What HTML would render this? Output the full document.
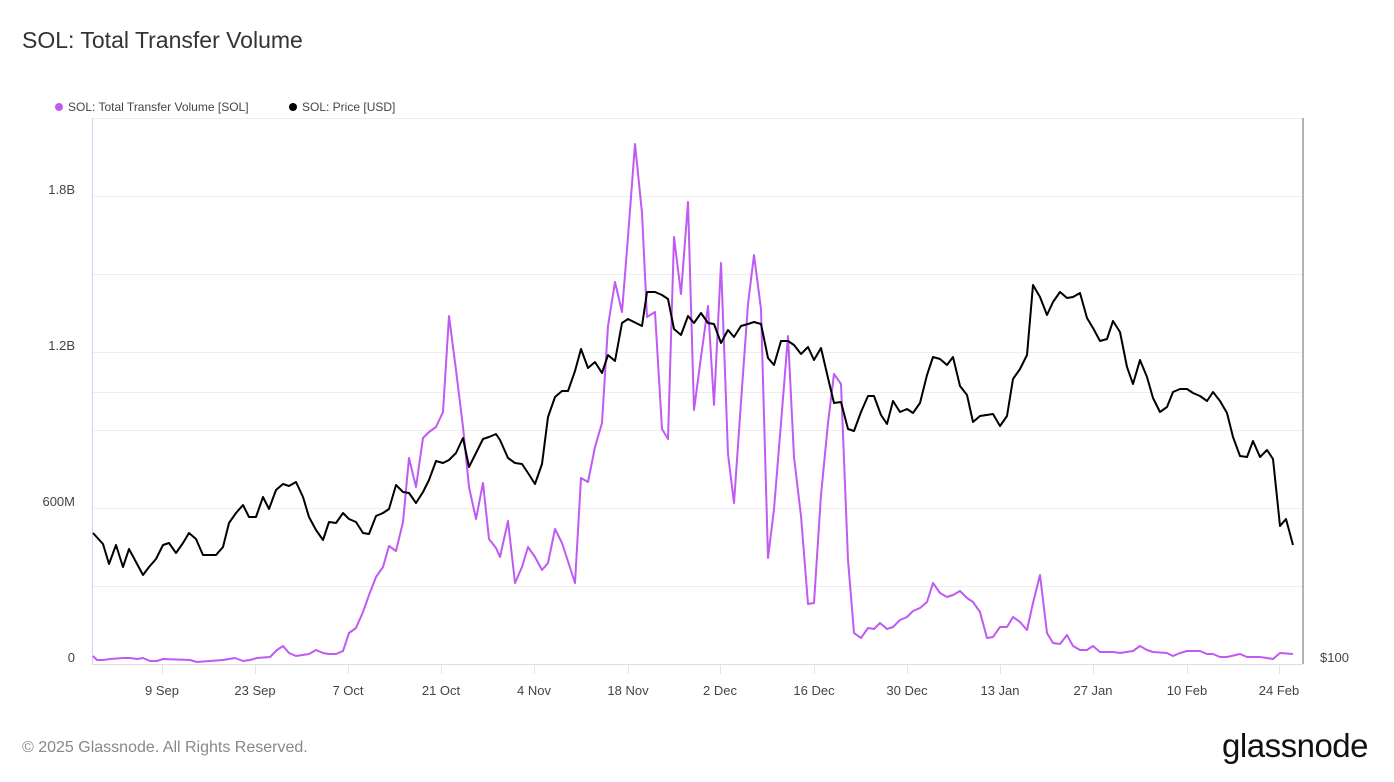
<!DOCTYPE html>
<html><head><meta charset="utf-8"><style>
html,body{margin:0;padding:0;background:#fff;}
body{width:1394px;height:777px;overflow:hidden;font-family:"Liberation Sans",sans-serif;}
</style></head><body>
<svg width="1394" height="777" viewBox="0 0 1394 777" xmlns="http://www.w3.org/2000/svg" font-family="Liberation Sans, sans-serif">
<rect width="1394" height="777" fill="#fff"/>
<text x="22" y="48" font-size="23" fill="#333">SOL: Total Transfer Volume</text>
<circle cx="59" cy="107" r="4" fill="#bf5af2"/>
<text x="68" y="111" font-size="12" fill="#444">SOL: Total Transfer Volume [SOL]</text>
<circle cx="293" cy="107" r="4" fill="#000"/>
<text x="302" y="111" font-size="12" fill="#444">SOL: Price [USD]</text>
<g stroke="#eeeeee" stroke-width="1">
<line x1="92" y1="118.5" x2="1303" y2="118.5"/>
<line x1="92" y1="196.5" x2="1303" y2="196.5"/>
<line x1="92" y1="274.5" x2="1303" y2="274.5"/>
<line x1="92" y1="352.5" x2="1303" y2="352.5"/>
<line x1="92" y1="392.5" x2="1303" y2="392.5"/>
<line x1="92" y1="430.5" x2="1303" y2="430.5"/>
<line x1="92" y1="508.5" x2="1303" y2="508.5"/>
<line x1="92" y1="586.5" x2="1303" y2="586.5"/>
</g>
<line x1="92.5" y1="118" x2="92.5" y2="664" stroke="#e2c6f7" stroke-width="1"/>
<line x1="1303" y1="118" x2="1303" y2="664" stroke="#999" stroke-width="1.5"/>
<line x1="92" y1="664.5" x2="1303" y2="664.5" stroke="#ddd" stroke-width="1"/>
<g stroke="#e4e4e4" stroke-width="1">
<line x1="162.5" y1="665" x2="162.5" y2="674"/><line x1="255.5" y1="665" x2="255.5" y2="674"/><line x1="348.5" y1="665" x2="348.5" y2="674"/><line x1="441.5" y1="665" x2="441.5" y2="674"/><line x1="534.5" y1="665" x2="534.5" y2="674"/><line x1="628.5" y1="665" x2="628.5" y2="674"/><line x1="720.5" y1="665" x2="720.5" y2="674"/><line x1="814.5" y1="665" x2="814.5" y2="674"/><line x1="907.5" y1="665" x2="907.5" y2="674"/><line x1="1000.5" y1="665" x2="1000.5" y2="674"/><line x1="1093.5" y1="665" x2="1093.5" y2="674"/><line x1="1187.5" y1="665" x2="1187.5" y2="674"/><line x1="1279.5" y1="665" x2="1279.5" y2="674"/>
</g>
<g font-size="13" fill="#444" text-anchor="end">
<text x="75" y="194">1.8B</text><text x="75" y="350">1.2B</text><text x="75" y="506">600M</text><text x="75" y="662">0</text>
</g>
<text x="1320" y="662" font-size="13" fill="#444">$100</text>
<g font-size="13" fill="#444" text-anchor="middle">
<text x="162" y="695">9 Sep</text><text x="255" y="695">23 Sep</text><text x="348" y="695">7 Oct</text><text x="441" y="695">21 Oct</text><text x="534" y="695">4 Nov</text><text x="628" y="695">18 Nov</text><text x="720" y="695">2 Dec</text><text x="814" y="695">16 Dec</text><text x="907" y="695">30 Dec</text><text x="1000" y="695">13 Jan</text><text x="1093" y="695">27 Jan</text><text x="1187" y="695">10 Feb</text><text x="1279" y="695">24 Feb</text>
</g>
<polyline fill="none" stroke="#bf5af2" stroke-width="2" stroke-linejoin="round" points="93,656 97,660 103,660 110,659 123,658 130,658 137,659 143,658 150,661 157,661 163,659 190,660 197,662 223,660 235,658 243,661 250,660 257,658 270,657 277,650 283,646 289,653 296,656 309,654 316,650 323,653 329,654 336,654 343,651 349,633 356,628 363,612 369,595 376,577 383,567 389,546 396,551 403,522 409,458 416,487 423,438 429,432 436,427 443,412 449,316 456,370 463,427 469,487 476,519 483,483 489,539 496,548 500,557 508,521 515,583 522,567 528,547 535,557 542,570 548,563 555,529 562,543 575,583 581,478 588,482 595,447 602,423 608,326 615,282 622,312 628,237 635,144 642,213 647,317 655,312 662,429 668,439 674,237 681,294 688,202 694,410 701,357 708,306 714,405 721,263 728,454 734,503 741,402 748,304 754,255 761,309 768,558 774,509 781,423 788,336 794,457 801,516 808,604 814,603 821,495 828,423 834,374 841,384 848,560 854,633 861,638 868,628 874,629 880,623 887,629 893,627 900,620 907,617 913,611 920,608 927,602 933,583 940,593 947,597 953,595 960,591 967,598 973,602 980,612 987,638 993,637 1000,627 1007,627 1013,617 1020,622 1027,630 1033,603 1040,575 1047,633 1053,643 1060,644 1067,635 1073,646 1080,650 1087,650 1093,646 1100,652 1113,652 1120,653 1133,651 1140,646 1147,650 1153,652 1167,653 1173,656 1180,653 1187,651 1200,651 1207,654 1213,654 1220,657 1227,657 1240,654 1247,657 1260,657 1273,659 1280,653 1293,654"/>
<polyline fill="none" stroke="#000" stroke-width="2" stroke-linejoin="round" points="93,533 103,544 109,564 116,545 123,567 129,549 136,562 143,575 149,567 156,559 163,545 169,543 176,553 183,543 189,533 196,539 203,555 209,555 216,555 223,547 229,523 236,513 243,505 249,517 256,517 263,497 269,509 276,490 283,484 289,486 296,482 303,497 309,517 316,530 323,540 329,522 336,523 343,513 349,519 356,522 363,533 369,534 376,516 383,513 389,509 396,485 403,492 409,493 416,503 423,492 429,480 436,461 443,463 449,460 456,453 463,438 469,467 476,453 483,439 489,437 496,434 500,440 508,458 515,463 522,464 528,473 535,484 542,464 548,417 555,397 562,391 568,391 575,371 581,349 588,368 595,362 602,373 608,355 615,361 622,323 628,319 642,326 647,292 655,292 662,295 668,299 674,329 681,335 688,316 694,323 701,313 708,323 714,324 721,343 728,330 734,337 741,326 748,324 754,322 761,324 768,358 774,365 781,341 788,341 794,345 801,354 808,347 814,360 821,348 828,378 834,403 841,402 848,429 854,431 861,412 868,396 874,396 881,415 887,424 893,401 900,412 907,409 913,413 920,403 927,375 933,357 940,359 947,365 953,357 960,386 967,395 973,422 980,416 993,414 1000,426 1007,416 1013,379 1020,369 1027,355 1033,285 1040,297 1047,315 1053,302 1060,292 1067,298 1073,297 1080,293 1087,318 1093,328 1100,341 1107,339 1113,321 1120,332 1127,367 1133,384 1140,360 1147,377 1153,398 1160,412 1167,407 1173,392 1180,389 1187,389 1193,393 1200,396 1207,401 1213,392 1220,401 1227,413 1233,437 1240,456 1247,457 1253,441 1260,457 1267,450 1273,459 1280,526 1286,519 1293,545"/>
<text x="22" y="752" font-size="16" fill="#888">© 2025 Glassnode. All Rights Reserved.</text>
<text x="1368" y="757" font-size="33" fill="#111" text-anchor="end" letter-spacing="-0.5">glassnode</text>
</svg>
</body></html>
